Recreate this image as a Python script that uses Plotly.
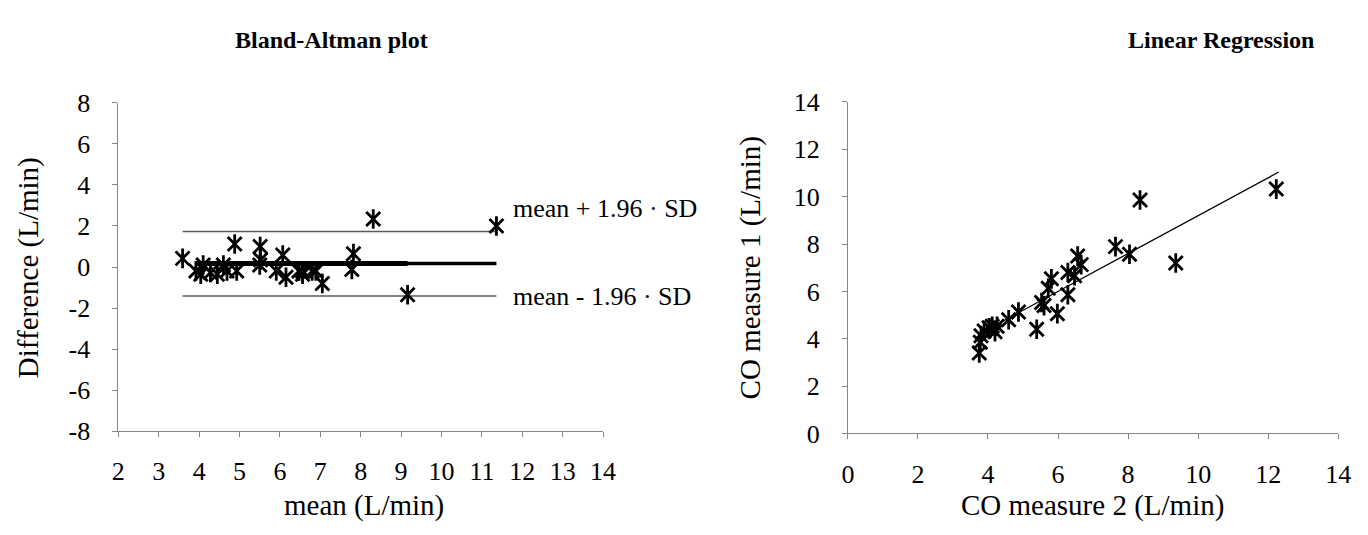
import plotly.graph_objects as go

# ---------------- data ----------------
# Bland-Altman: mean of both measurements vs difference
ba_mean = [3.59, 8.31, 11.36, 4.88, 5.51, 5.52, 5.50, 6.07, 5.91, 6.15, 6.56, 6.80, 7.05,
           7.82, 7.78, 9.16, 3.92, 4.04, 4.28, 4.45, 4.69, 4.93, 6.47, 6.89, 6.56, 4.10, 4.60]
ba_diff = [0.42, 2.34, 2.00, 1.12, 1.00, 0.35, 0.10, 0.58, -0.19, -0.50, -0.35, -0.19, -0.80,
           0.65, -0.12, -1.35, -0.19, -0.35, -0.27, -0.35, -0.19, -0.19, -0.20, -0.19, -0.19, 0.10, 0.10]

mean_diff = 0.17
upper_loa = 1.73
lower_loa = -1.42
loa_x = [3.59, 11.36]
mean_thick_x = [3.92, 9.16]
mean_thin_x = [3.92, 11.36]

# Linear regression: CO measure 2 (x) vs CO measure 1 (y)
co2 = [12.23, 8.34, 9.36, 7.64, 8.04, 6.56, 6.66, 6.28, 6.47, 5.81, 5.72, 6.28, 5.53,
       5.98, 5.39, 4.87, 4.59, 4.26, 4.03, 3.89, 3.80, 3.75, 4.12, 3.78, 4.20, 5.60]
co1 = [10.32, 9.86, 7.20, 7.89, 7.57, 7.49, 7.13, 6.80, 6.66, 6.53, 6.13, 5.86, 5.53,
       5.06, 4.40, 5.13, 4.80, 4.53, 4.46, 4.33, 4.13, 3.40, 4.53, 3.85, 4.30, 5.40]
reg_x = [3.75, 12.30]
reg_y = [4.20, 11.04]

left_xticks = list(range(2, 15))
left_yticks = list(range(-8, 9, 2))
left_yticktext = [str(v) for v in left_yticks]
right_ticks = list(range(0, 15, 2))

FONT = "Liberation Serif"
AX = "#868686"

fig = go.Figure()

def star(x, y, xa, ya):
    for sym in ["x-thin-open", "line-ns-open"]:
        fig.add_trace(go.Scatter(
            x=x, y=y, mode="markers", xaxis=xa, yaxis=ya, showlegend=False,
            marker=dict(symbol=sym, size=14, color="black",
                        line=dict(color="black", width=2.8))))

# Bland-Altman lines
fig.add_trace(go.Scatter(x=loa_x, y=[upper_loa, upper_loa], mode="lines",
                         line=dict(color="#5a5a5a", width=1.5), xaxis="x", yaxis="y", showlegend=False))
fig.add_trace(go.Scatter(x=loa_x, y=[lower_loa, lower_loa], mode="lines",
                         line=dict(color="#5a5a5a", width=1.5), xaxis="x", yaxis="y", showlegend=False))
star(ba_mean, ba_diff, "x", "y")
fig.add_trace(go.Scatter(x=mean_thin_x, y=[mean_diff, mean_diff], mode="lines",
                         line=dict(color="black", width=3.5), xaxis="x", yaxis="y", showlegend=False))
fig.add_trace(go.Scatter(x=mean_thick_x, y=[mean_diff, mean_diff], mode="lines",
                         line=dict(color="black", width=5), xaxis="x", yaxis="y", showlegend=False))

# Regression
star(co2, co1, "x2", "y2")
fig.add_trace(go.Scatter(x=reg_x, y=reg_y, mode="lines",
                         line=dict(color="black", width=1.3), xaxis="x2", yaxis="y2", showlegend=False))

axcommon = dict(showline=True, linecolor=AX, linewidth=1, ticks="outside", ticklen=5,
                tickcolor=AX, tickwidth=1, showgrid=False, zeroline=False,
                tickfont=dict(family=FONT, size=26, color="black"))

fig.update_layout(
    width=1368, height=535, margin=dict(l=0, r=0, t=0, b=0),
    paper_bgcolor="white", plot_bgcolor="white",
    font=dict(family=FONT, color="black"),
    xaxis=dict(domain=[0.0826, 0.4422], range=[2, 14], tickvals=left_xticks, anchor="y",
               ticklabelstandoff=12, **axcommon),
    yaxis=dict(domain=[0.1757, 0.8243], range=[-8, 8], tickvals=left_yticks,
               ticktext=left_yticktext, anchor="x", ticklabelstandoff=17, **axcommon),
    xaxis2=dict(domain=[0.6238, 0.9876], range=[0, 14], tickvals=right_ticks, anchor="y2",
                ticklabelstandoff=12, **axcommon),
    yaxis2=dict(domain=[0.171, 0.8262], range=[0, 14], tickvals=right_ticks, anchor="x2",
                ticklabelstandoff=17, **axcommon),
)

ann = [
    dict(text="<b>Bland-Altman plot</b>", x=329, y=28, size=24),
    dict(text="<b>Linear Regression</b>", x=1232, y=28, size=24),
    dict(text="mean (L/min)", x=362, y=520, size=29),
    dict(text="CO measure 2 (L/min)", x=1102, y=520, size=29),
]
for a in ann:
    fig.add_annotation(text=a["text"], x=a["x"] / 1368, y=1 - a["y"] / 535, xref="paper", yref="paper",
                       showarrow=False, xanchor="center", yanchor="middle",
                       font=dict(family=FONT, size=a["size"], color="black"))
for txt, xc in [("Difference (L/min)", 22), ("CO measure 1 (L/min)", 755)]:
    fig.add_annotation(text=txt, x=xc / 1368, y=1 - 268 / 535, xref="paper", yref="paper",
                       showarrow=False, xanchor="center", yanchor="middle", textangle=-90,
                       font=dict(family=FONT, size=29, color="black"))
fig.add_annotation(text="mean + 1.96 · SD", x=11.72, y=2.84, xref="x", yref="y", showarrow=False,
                   xanchor="left", yanchor="middle", font=dict(family=FONT, size=26, color="black"))
fig.add_annotation(text="mean - 1.96 · SD", x=11.72, y=-1.42, xref="x", yref="y", showarrow=False,
                   xanchor="left", yanchor="middle", font=dict(family=FONT, size=26, color="black"))

fig.write_html("out.html", config={"displayModeBar": False},
               post_script="document.body.style.margin='0';document.body.style.overflow='hidden';")
